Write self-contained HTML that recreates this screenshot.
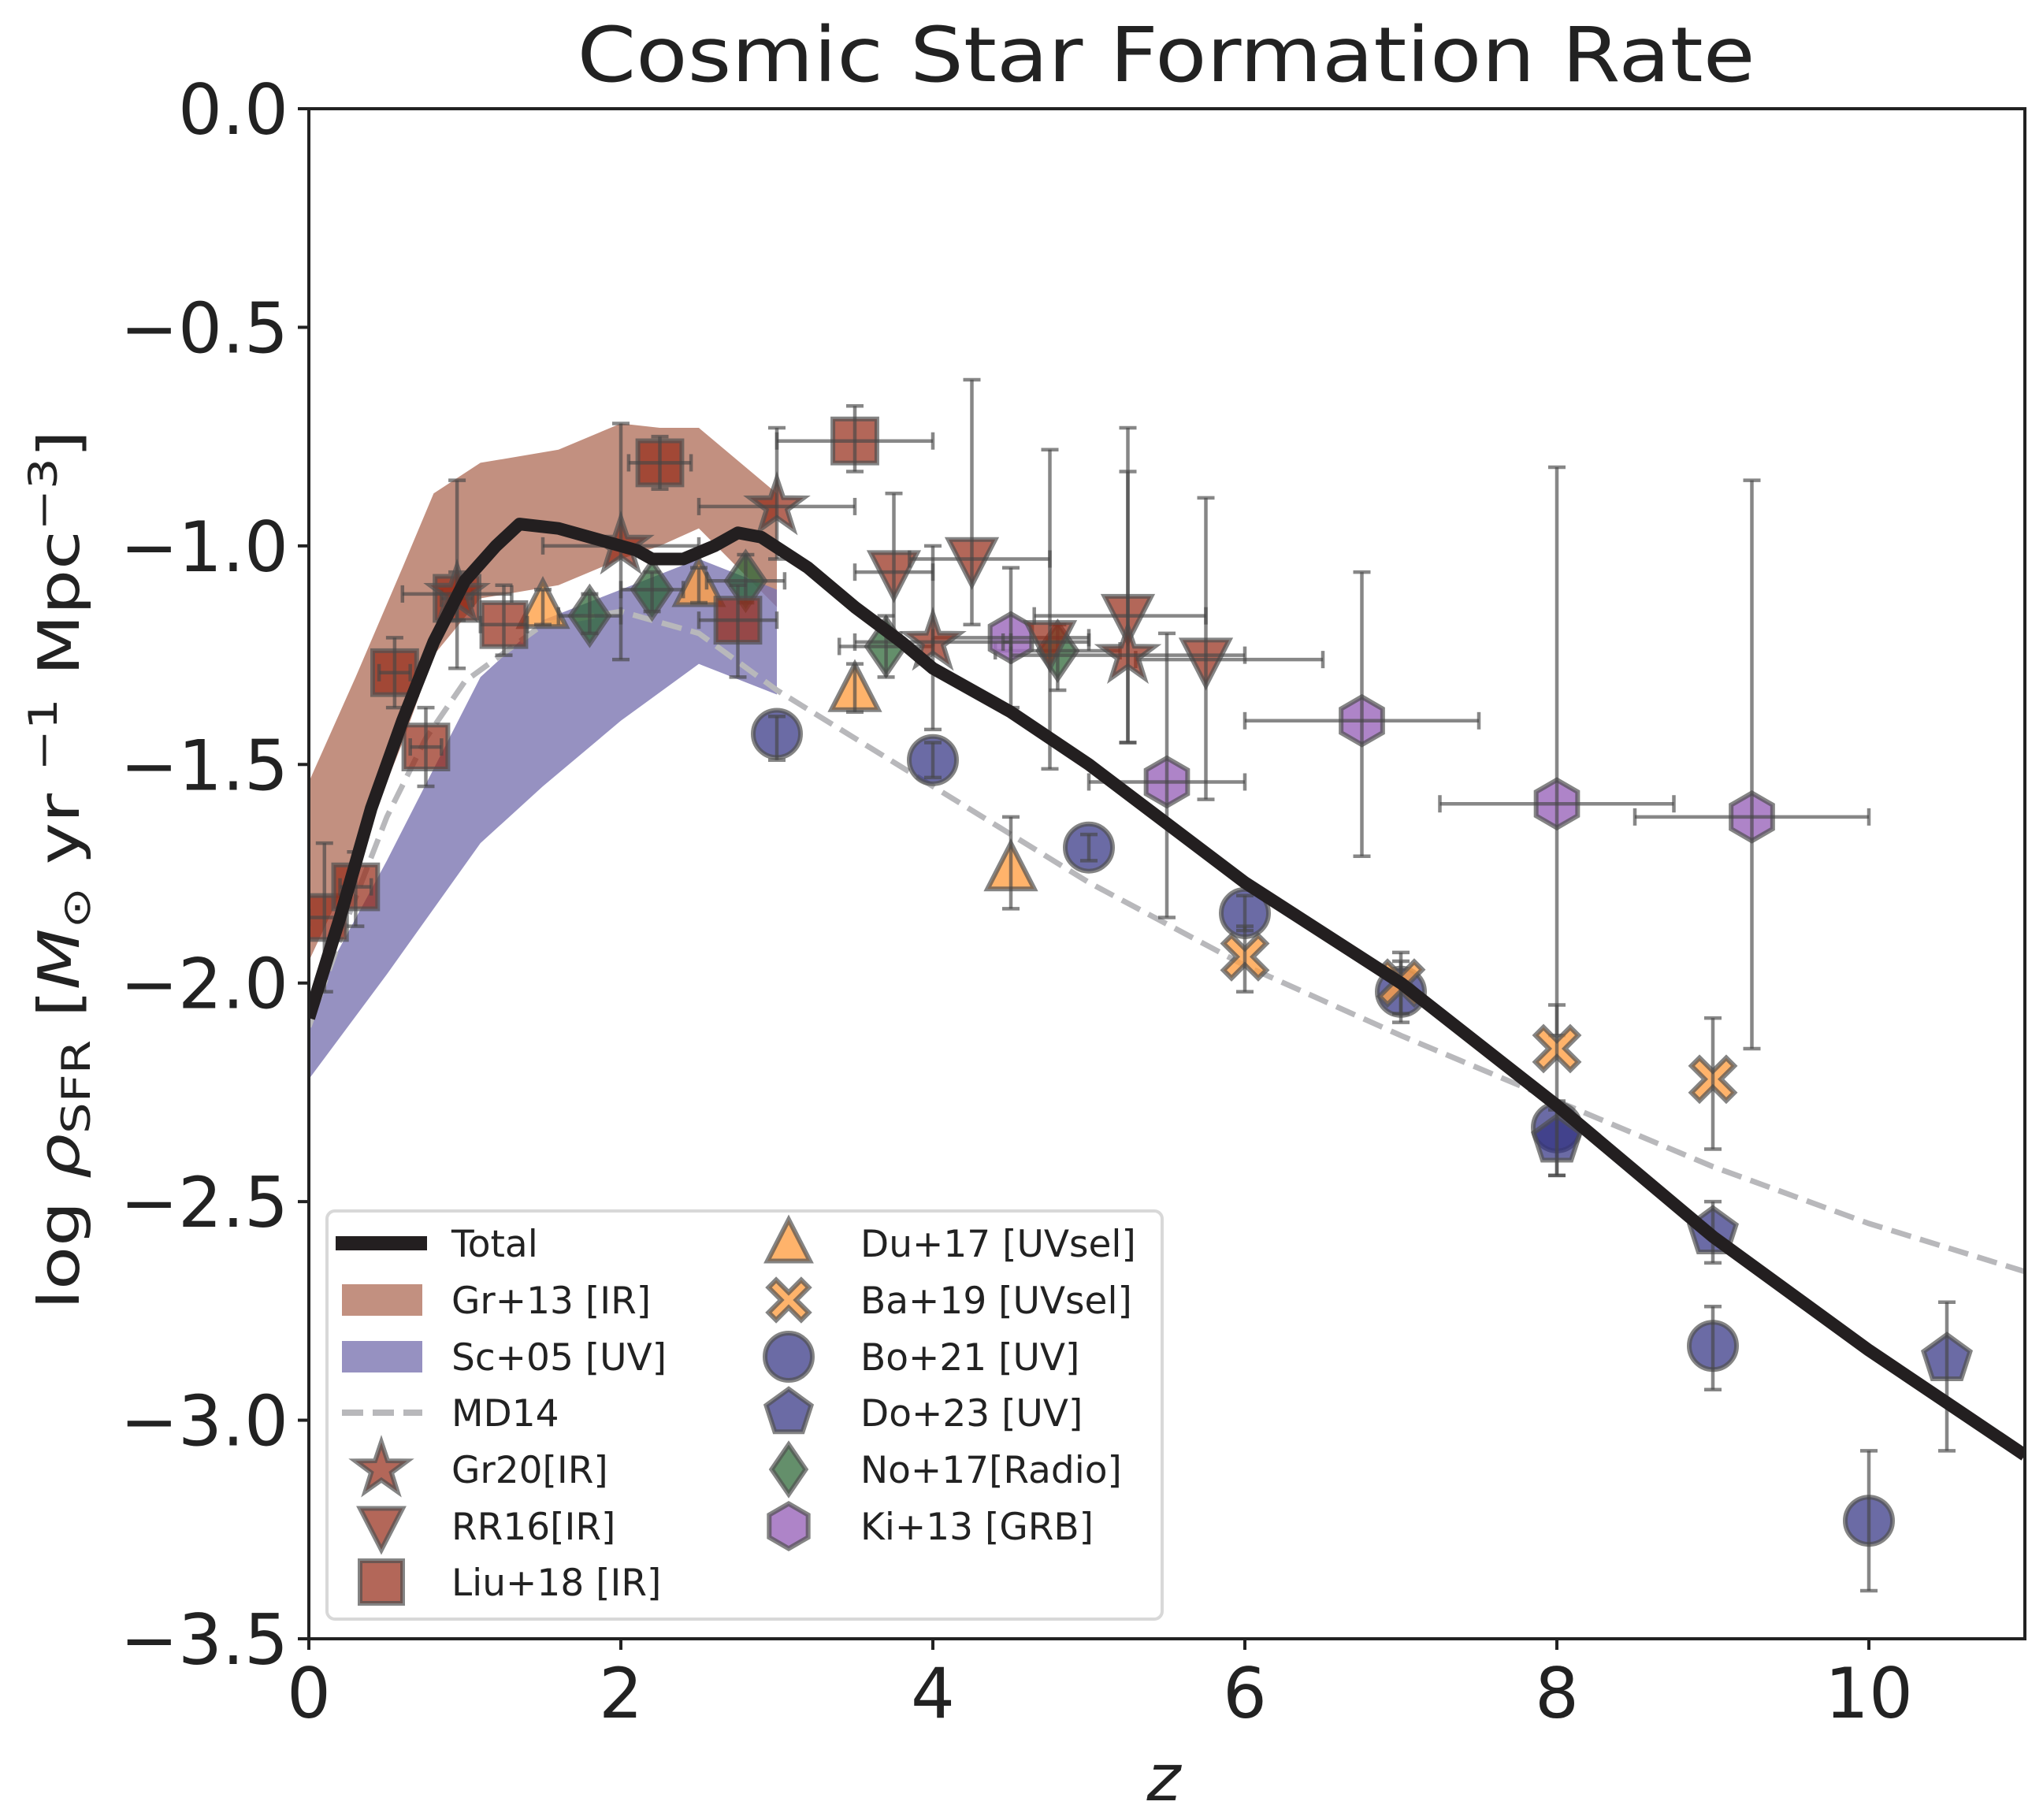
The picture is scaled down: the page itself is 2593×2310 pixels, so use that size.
<!DOCTYPE html>
<html><head><meta charset="utf-8"><style>
html,body{margin:0;padding:0;background:#fff;}
svg{display:block;font-family:"DejaVu Sans","Liberation Sans",sans-serif;}
</style></head><body>
<svg id="chart" width="2593" height="2310" viewBox="0 0 2593 2310" xmlns="http://www.w3.org/2000/svg">
<rect width="2593" height="2310" fill="#fff"/>
<text x="1480" y="103" font-size="96" text-anchor="middle" fill="#222" textLength="1495" lengthAdjust="spacingAndGlyphs">Cosmic Star Formation Rate</text>
<g id="plot"></g>
<g id="axes"></g>
<g id="legend"></g>
<text x="1477" y="2285" font-size="82" font-style="italic" text-anchor="middle" fill="#222">z</text>
<text transform="translate(100,1104) rotate(-90)" font-size="72" text-anchor="middle" fill="#222" textLength="1116" lengthAdjust="spacingAndGlyphs">log <tspan font-style="italic">ρ</tspan><tspan font-size="50" dy="14">SFR</tspan><tspan dy="-14"> [</tspan><tspan font-style="italic">M</tspan><tspan font-size="50" dy="14">⊙</tspan><tspan dy="-14"> yr </tspan><tspan font-size="50" dy="-28">−1</tspan><tspan dy="28"> Mpc</tspan><tspan font-size="50" dy="-28">−3</tspan><tspan dy="28">]</tspan></text>
</svg>
<script>
// ---- data ----
const totalZ = [0,0.2,0.4,0.6,0.8,1.0,1.2,1.35,1.6,1.9,2.1,2.2,2.4,2.6,2.75,2.9,3.2,3.5,3.8,4.0,4.5,5,6,7,8,9,10,11];
const totalV = [-2.08,-1.85,-1.6,-1.4,-1.22,-1.08,-1.0,-0.95,-0.96,-0.99,-1.01,-1.03,-1.03,-1.0,-0.97,-0.98,-1.05,-1.14,-1.22,-1.28,-1.38,-1.5,-1.77,-2.0,-2.28,-2.58,-2.84,-3.08];
const md14Z = [0,0.25,0.5,0.75,1,1.5,2,2.5,3,4,5,6,7,8,9,10,11];
const md14V = [-2.1,-1.85,-1.62,-1.44,-1.31,-1.18,-1.15,-1.2,-1.33,-1.55,-1.77,-1.96,-2.12,-2.27,-2.42,-2.55,-2.66];
const gr13Z = [0,0.3,0.6,0.8,1.1,1.6,2.0,2.25,2.5,3.0];
const gr13Hi = [-1.54,-1.3,-1.05,-0.88,-0.81,-0.78,-0.72,-0.73,-0.73,-0.88];
const gr13Lo = [-1.95,-1.72,-1.45,-1.25,-1.12,-1.09,-1.03,-1.0,-0.96,-1.14];
const sc05Z = [0,0.5,1.1,1.5,2.0,2.5,3.0];
const sc05Hi = [-2.05,-1.72,-1.3,-1.17,-1.1,-1.03,-1.1];
const sc05Lo = [-2.22,-1.98,-1.68,-1.55,-1.4,-1.27,-1.34];

const liuZ=[0.1,0.3,0.55,0.75,0.95,1.25,2.25,2.75,3.5], liuV=[-1.85,-1.78,-1.29,-1.46,-1.12,-1.18,-0.81,-1.17,-0.76];
const liuYhi=[-1.68,-1.7,-1.21,-1.37,-1.06,-1.09,-0.75,-1.09,-0.68], liuYlo=[-2.02,-1.87,-1.37,-1.55,-1.17,-1.25,-0.87,-1.3,-0.83];
const liuXlo=[0,0.2,0.45,0.65,0.85,1.1,2.05,2.5,3.0], liuXhi=[0.2,0.4,0.65,0.85,1.05,1.4,2.45,3.0,4.0];
const gr20Z=[0.95,2.0,3.0,4.0,5.25], gr20V=[-1.11,-1.0,-0.91,-1.22,-1.25];
const gr20Yhi=[-0.85,-0.72,-0.73,-1.0,-0.73], gr20Ylo=[-1.28,-1.26,-1.03,-1.42,-1.45];
const gr20Xlo=[0.6,1.5,2.5,3.5,4.5], gr20Xhi=[1.3,2.5,3.5,4.5,6.0];
const rr16Z=[3.75,4.25,4.75,5.25,5.75], rr16V=[-1.06,-1.03,-1.22,-1.16,-1.26];
const rr16Yhi=[-0.88,-0.62,-0.78,-0.83,-0.89], rr16Ylo=[-1.2,-1.18,-1.51,-1.45,-1.58];
const rr16Xlo=[3.5,3.85,4.45,4.65,5.3], rr16Xhi=[4.0,4.75,5.0,5.75,6.5];
const du17Z=[1.5,2.5,3.5,4.5], du17V=[-1.14,-1.09,-1.33,-1.74], du17Yhi=[-1.1,-1.05,-1.27,-1.62], du17Ylo=[-1.18,-1.13,-1.38,-1.83];
const ba19Z=[6,7,8,9], ba19V=[-1.94,-2.0,-2.15,-2.22], ba19Yhi=[-1.87,-1.93,-2.05,-2.08], ba19Ylo=[-2.02,-2.07,-2.27,-2.38];
const bo21Z=[3,4,5,6,7,8,9,10], bo21V=[-1.43,-1.49,-1.69,-1.84,-2.02,-2.33,-2.83,-3.23];
const bo21Yhi=[-1.39,-1.45,-1.66,-1.8,-1.95,-2.28,-2.74,-3.07], bo21Ylo=[-1.49,-1.53,-1.72,-1.88,-2.09,-2.44,-2.93,-3.39];
const do23Z=[8,9,10.5], do23V=[-2.36,-2.57,-2.86], do23Yhi=[-2.29,-2.5,-2.73], do23Ylo=[-2.44,-2.64,-3.07];
const no17Z=[1.8,2.2,2.8,3.7,4.8], no17V=[-1.16,-1.1,-1.08,-1.23,-1.24];
const no17Yhi=[-1.11,-1.06,-1.02,-1.16,-1.18], no17Ylo=[-1.2,-1.15,-1.13,-1.3,-1.33];
const no17Xlo=[1.6,2.0,2.55,3.4,4.4], no17Xhi=[2.0,2.4,3.05,4.0,5.2];
const ki13Z=[4.5,5.5,6.75,8,9.25], ki13V=[-1.21,-1.54,-1.4,-1.59,-1.62];
const ki13Yhi=[-1.05,-1.2,-1.06,-0.82,-0.85], ki13Ylo=[-1.37,-1.85,-1.71,-2.12,-2.15];
const ki13Xlo=[4.0,5.0,6.0,7.25,8.5], ki13Xhi=[5.0,6.0,7.5,8.75,10.0];
const xTicks=[0,2,4,6,8,10];
const yTicks=[0,-0.5,-1,-1.5,-2,-2.5,-3,-3.5];
const yTickLabels=["0.0","−0.5","−1.0","−1.5","−2.0","−2.5","−3.0","−3.5"];

// ---- axes ----
const X0=392,X1=2570,Y0=138,Y1=2080;
const xs=z=>X0+(z-0)/11*(X1-X0);
const ys=v=>Y0+(0-v)/3.5*(Y1-Y0);
const NS="http://www.w3.org/2000/svg";
function mk(tag,attrs,parent){const e=document.createElementNS(NS,tag);for(const k in attrs)e.setAttribute(k,attrs[k]);parent.appendChild(e);return e;}
const plot=document.getElementById('plot'), axes=document.getElementById('axes'), leg=document.getElementById('legend');
const cp=mk('clipPath',{id:'clip'},plot);
mk('rect',{x:X0,y:Y0,width:X1-X0,height:Y1-Y0},cp);
const g=mk('g',{'clip-path':'url(#clip)'},plot);

function band(zz,hi,lo,fill,name){
  let d='M'+zz.map((z,i)=>xs(z)+','+ys(hi[i])).join('L');
  for(let i=zz.length-1;i>=0;i--) d+='L'+xs(zz[i])+','+ys(lo[i]);
  const p=mk('path',{d:d+'Z',fill:fill},g);
  
  
}
band(gr13Z,gr13Hi,gr13Lo,'#c29080','gr13-band');
band(sc05Z,sc05Hi,sc05Lo,'rgba(120,114,176,0.78)','sc05-band');

function line(zz,vv,style,name){
  const p=mk('path',Object.assign({d:'M'+zz.map((z,i)=>xs(z)+','+ys(vv[i])).join('L'),fill:'none'},style),g);
  
  
}
line(md14Z,md14V,{stroke:'#b8b8bb','stroke-width':7,'stroke-dasharray':'26,12'},'md14-line');

function shape(type,cx,cy,s,fill,parent){
  let e;
  const st={fill:fill,stroke:'rgba(80,80,80,0.7)','stroke-width':6,'stroke-linejoin':'miter'};
  const poly=pts=>mk('polygon',Object.assign({points:pts.map(p=>(cx+p[0])+','+(cy+p[1])).join(' ')},st),parent);
  if(type==='circle') e=mk('circle',Object.assign({cx:cx,cy:cy,r:s},st),parent);
  else if(type==='square') e=poly([[-s*0.9,-s*0.9],[s*0.9,-s*0.9],[s*0.9,s*0.9],[-s*0.9,s*0.9]]);
  else if(type==='tri_up') e=poly([[0,-s],[s*0.9,s*0.75],[-s*0.9,s*0.75]]);
  else if(type==='tri_down') e=poly([[0,s],[s*0.9,-s*0.75],[-s*0.9,-s*0.75]]);
  else if(type==='diamond') e=poly([[0,-s*1.05],[s*0.72,0],[0,s*1.05],[-s*0.72,0]]);
  else if(type==='hex'){const p=[];for(let k=0;k<6;k++){const a=Math.PI/2+k*Math.PI/3;p.push([s*0.95*Math.cos(a),-s*0.95*Math.sin(a)]);}e=poly(p);}
  else if(type==='pent'){const p=[];for(let k=0;k<5;k++){const a=Math.PI/2+k*2*Math.PI/5;p.push([s*Math.cos(a),-s*Math.sin(a)]);}e=poly(p);}
  else if(type==='star'){const p=[];for(let k=0;k<10;k++){const a=Math.PI/2+k*Math.PI/5;const r=k%2?s*0.45:s*1.15;p.push([r*Math.cos(a),-r*Math.sin(a)]);}e=poly(p);}
  else if(type==='x'){const a=s*0.85,t=s*0.32;e=poly([[-a,-a+t],[-a+t,-a],[0,-t],[a-t,-a],[a,-a+t],[t,0],[a,a-t],[a-t,a],[0,t],[-a+t,a],[-a,a-t],[-t,0]]);}
  return e;
}
function errbar(par,x1,y1,x2,y2,vert){
  mk('line',{x1:x1,y1:y1,x2:x2,y2:y2,stroke:'rgba(70,70,70,0.65)','stroke-width':4.5},par);
  const c=11;
  if(vert){[y1,y2].forEach(y=>mk('line',{x1:x1-c,y1:y,x2:x1+c,y2:y,stroke:'rgba(70,70,70,0.65)','stroke-width':4.5},par));}
  else{[x1,x2].forEach(x=>mk('line',{x1:x,y1:y1-c,x2:x,y2:y1+c,stroke:'rgba(70,70,70,0.65)','stroke-width':4.5},par));}
}
function series(name,type,fill,zz,vv,yhi,ylo,xlo,xhi,s){
  const sg=mk('g',{},g);
  
  
  zz.forEach((z,i)=>{
    const pg=mk('g',{},sg);
    
    
    shape(type,xs(z),ys(vv[i]),s,fill,pg);
    errbar(pg,xs(z),ys(yhi[i]),xs(z),ys(ylo[i]),true);
    if(xlo) errbar(pg,xs(xlo[i]),ys(vv[i]),xs(xhi[i]),ys(vv[i]),false);
  });
}
const BR='rgba(150,45,25,0.72)', OR='rgba(255,160,70,0.8)', BL='rgba(50,50,130,0.72)', GR='rgba(40,100,50,0.72)', PU='rgba(160,110,190,0.85)';
series('du17-series','tri_up',OR,du17Z,du17V,du17Yhi,du17Ylo,null,null,33);
series('no17-series','diamond',GR,no17Z,no17V,no17Yhi,no17Ylo,no17Xlo,no17Xhi,34);
series('ki13-series','hex',PU,ki13Z,ki13V,ki13Yhi,ki13Ylo,ki13Xlo,ki13Xhi,32);
series('liu18-series','square',BR,liuZ,liuV,liuYhi,liuYlo,liuXlo,liuXhi,31);
series('rr16-series','tri_down',BR,rr16Z,rr16V,rr16Yhi,rr16Ylo,rr16Xlo,rr16Xhi,33);
series('gr20-series','star',BR,gr20Z,gr20V,gr20Yhi,gr20Ylo,gr20Xlo,gr20Xhi,31);
series('bo21-series','circle',BL,bo21Z,bo21V,bo21Yhi,bo21Ylo,null,null,30);
series('do23-series','pent',BL,do23Z,do23V,do23Yhi,do23Ylo,null,null,31);
series('ba19-series','x',OR,ba19Z,ba19V,ba19Yhi,ba19Ylo,null,null,32);
line(totalZ,totalV,{stroke:'#231f20','stroke-width':16,'stroke-linejoin':'round'},'total-line');

// frame and ticks
const fr=mk('rect',{x:X0,y:Y0,width:X1-X0,height:Y1-Y0,fill:'none',stroke:'#222','stroke-width':4},axes);


xTicks.forEach(t=>{
  mk('line',{x1:xs(t),y1:Y1,x2:xs(t),y2:Y1+14,stroke:'#222','stroke-width':4},axes);
  const tx=mk('text',{x:xs(t),y:Y1+100,'font-size':88,'text-anchor':'middle',fill:'#222'},axes);
  tx.textContent=t;
  
  
});
yTicks.forEach((t,i)=>{
  mk('line',{x1:X0-14,y1:ys(t),x2:X0,y2:ys(t),stroke:'#222','stroke-width':4},axes);
  const tx=mk('text',{x:X0-26,y:ys(t)+32,'font-size':88,'text-anchor':'end',fill:'#222'},axes);
  tx.textContent=yTickLabels[i];
  
  
});

// legend
const lb=mk('rect',{x:415,y:1537,width:1060,height:518,rx:10,fill:'rgba(255,255,255,0.85)',stroke:'#d8d8d8','stroke-width':4},leg);


const rowY=[1578,1650,1722,1793,1865,1937,2008];
function legText(x,y,t){const e=mk('text',{x:x,y:y+17,'font-size':47,fill:'#222'},leg);e.textContent=t;}
function legEntry(){const e=mk('g',{},leg);return e;}
let e;
e=legEntry();mk('rect',{x:426,y:rowY[0]-9,width:116,height:18,fill:'#231f20'},e);legText(573,rowY[0],'Total');
e=legEntry();mk('rect',{x:434,y:rowY[1]-20,width:102,height:40,fill:'#c29080'},e);legText(573,rowY[1],'Gr+13 [IR]');
e=legEntry();mk('rect',{x:434,y:rowY[2]-20,width:102,height:40,fill:'rgba(120,114,176,0.78)'},e);legText(573,rowY[2],'Sc+05 [UV]');
e=legEntry();mk('line',{x1:434,y1:rowY[3],x2:536,y2:rowY[3],stroke:'#b8b8bb','stroke-width':8,'stroke-dasharray':'27,12'},e);legText(573,rowY[3],'MD14');
const col1=[['star',BR,'Gr20[IR]'],['tri_down',BR,'RR16[IR]'],['square',BR,'Liu+18 [IR]']];
col1.forEach((c,i)=>{e=legEntry();shape(c[0],484,rowY[4+i],30,c[1],e);legText(573,rowY[4+i],c[2]);});
const col2=[['tri_up',OR,'Du+17 [UVsel]'],['x',OR,'Ba+19 [UVsel]'],['circle',BL,'Bo+21 [UV]'],['pent',BL,'Do+23 [UV]'],['diamond',GR,'No+17[Radio]'],['hex',PU,'Ki+13 [GRB]']];
col2.forEach((c,i)=>{e=legEntry();shape(c[0],1001,rowY[i],30,c[1],e);legText(1092,rowY[i],c[2]);});
</script>
</body></html>
